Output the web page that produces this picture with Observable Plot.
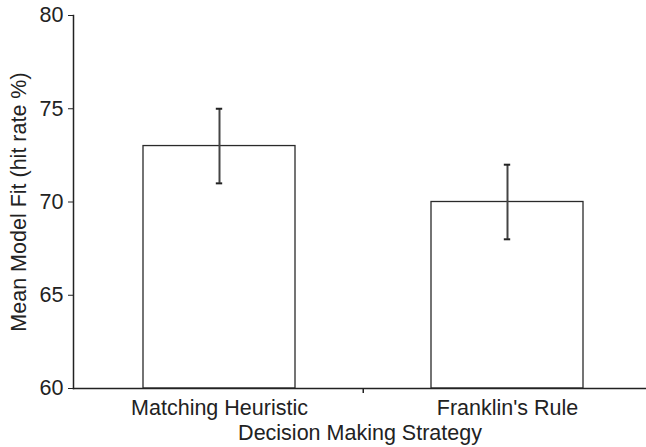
<!DOCTYPE html>
<html><head><meta charset="utf-8">
<script src="https://cdn.jsdelivr.net/npm/d3@7"></script>
<script src="https://cdn.jsdelivr.net/npm/@observablehq/plot@0.6"></script>
<style>body{margin:0;background:#fff}</style>
</head><body><div id="chart"></div>
<script>
const categories = ["Matching Heuristic", "Franklin's Rule"];
const meanFit = [73, 70];
const errLow = [71, 68];
const errHigh = [75, 72];
const yTicks = [60, 65, 70, 75, 80];
const baseline = 60;
const xLabel = "Decision Making Strategy";
const yLabel = "Mean Model Fit (hit rate %)";

const data = categories.map((c, i) => ({category: c, mean: meanFit[i], lo: errLow[i], hi: errHigh[i]}));

const xRange = [75, 652];
const step = (xRange[1] - xRange[0]) / categories.length;
const pInner = 0.471;
const bandwidth = step * (1 - pInner);
const capInset = (bandwidth - 7) / 2;

const plot = Plot.plot({
  width: 646, height: 447,
  marginLeft: 73, marginRight: 0, marginTop: 15, marginBottom: 59,
  style: {fontFamily: "'Liberation Sans', Arial, sans-serif", fontSize: "21.5px", color: "#222", background: "#fff"},
  x: {domain: categories, range: xRange, paddingInner: pInner, paddingOuter: pInner / 2},
  y: {domain: [60, 80]},
  marks: [
    Plot.barY(data, {x: "category", y1: baseline, y2: "mean", fill: "white", stroke: "#2a2a2a", strokeWidth: 1.3}),
    Plot.ruleX(data, {x: "category", y1: "lo", y2: "hi", stroke: "#444", strokeWidth: 2}),
    Plot.tickY(data, {x: "category", y: "lo", stroke: "#222", strokeWidth: 2, insetLeft: capInset, insetRight: capInset}),
    Plot.tickY(data, {x: "category", y: "hi", stroke: "#222", strokeWidth: 2, insetLeft: capInset, insetRight: capInset}),
    Plot.frame({anchor: "bottom", stroke: "#222", strokeWidth: 1.5}),
    Plot.frame({anchor: "left", stroke: "#222", strokeWidth: 1.5}),
    Plot.ruleX([categories[1]], {x: d => d, y1: baseline, y2: baseline, dx: -step / 2, insetBottom: -5, stroke: "#222", strokeWidth: 1.5}),
    Plot.axisY({ticks: yTicks, tickSize: 5, tickPadding: 5, stroke: "#222", label: yLabel, labelAnchor: "center", labelArrow: "none", labelOffset: 63}),
    Plot.axisX({tickSize: 0, tickPadding: 11, label: xLabel, labelAnchor: "center", labelArrow: "none", labelOffset: 51})
  ]
});
document.getElementById("chart").appendChild(plot);
</script>
</body></html>
